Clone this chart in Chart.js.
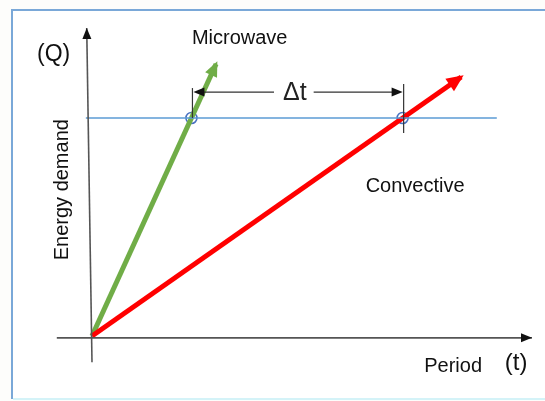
<!DOCTYPE html>
<html>
<head>
<meta charset="utf-8">
<script src="https://cdn.jsdelivr.net/npm/chart.js@4/dist/chart.umd.min.js"></script>
<style>
  html, body { margin: 0; padding: 0; background: #ffffff; }
  #wrap { width: 545px; height: 401px; position: relative; }
</style>
</head>
<body>
<div id="wrap"><canvas id="c" width="545" height="401"></canvas></div>
<script>
// ---- Data (t = period, Q = energy demand, arbitrary units) ----
const seriesNames   = ['Microwave', 'Convective'];
const microwaveT    = [0, 2.82];
const microwaveQ    = [0, 8.83];
const convectiveT   = [0, 8.39];
const convectiveQ   = [0, 8.41];
const thresholdT    = [-0.14, 9.2];
const thresholdQ    = [7.08, 7.08];
const crossT        = [2.26, 7.06];
const crossQ        = [7.08, 7.08];
const deltaQ        = 7.92;          // level of the Δt dimension line
const tickTopQ      = [8.05, 8.18];  // upper ends of the dimension ticks
const tickBottomQ   = [7.08, 6.59];  // lower ends of the dimension ticks
const xAxisT        = [-0.8, 10];
const xAxisQ        = [-0.06, -0.06];
const yAxisT        = [0, -0.12];
const yAxisQ        = [-0.85, 10];
const labels = {
  yTitle: 'Energy demand', yUnit: '(Q)',
  xTitle: 'Period', xUnit: '(t)',
  delta: 'Δt'
};

const pts = (xs, ys) => xs.map((x, i) => ({ x: x, y: ys[i] }));

const FONT = '"Liberation Sans", Arial, "DejaVu Sans", sans-serif';

function arrowHead(ctx, x1, y1, x2, y2, len, wid, color, extend) {
  const a = Math.atan2(y2 - y1, x2 - x1);
  const tx = x2 + Math.cos(a) * (extend || 0);
  const ty = y2 + Math.sin(a) * (extend || 0);
  ctx.save();
  ctx.translate(tx, ty);
  ctx.rotate(a);
  ctx.fillStyle = color;
  ctx.beginPath();
  ctx.moveTo(0, 0);
  ctx.lineTo(-len, wid / 2);
  ctx.lineTo(-len, -wid / 2);
  ctx.closePath();
  ctx.fill();
  ctx.restore();
}

const decor = {
  id: 'decor',
  beforeDraw(chart) {
    const ctx = chart.ctx;
    ctx.save();
    ctx.fillStyle = '#fdfdfb';
    ctx.fillRect(0, 0, chart.width, chart.height);
    ctx.fillStyle = '#ffffff';
    ctx.fillRect(12, 10, chart.width, 388);
    ctx.strokeStyle = '#7aa8d8';
    ctx.lineWidth = 2;
    ctx.beginPath();
    ctx.moveTo(chart.width + 2, 10);
    ctx.lineTo(12, 10);
    ctx.lineTo(12, 399);
    ctx.stroke();
    ctx.strokeStyle = '#d4f3f8';
    ctx.beginPath();
    ctx.moveTo(13, 399);
    ctx.lineTo(chart.width + 2, 399);
    ctx.stroke();
    ctx.restore();
  },
  afterDatasetsDraw(chart) {
    const ctx = chart.ctx;
    const xs = chart.scales.x, ys = chart.scales.y;
    const px = v => xs.getPixelForValue(v);
    const py = v => ys.getPixelForValue(v);

    // axis arrowheads
    arrowHead(ctx, px(xAxisT[0]), py(xAxisQ[0]), px(xAxisT[1]), py(xAxisQ[1]), 11, 9, '#111', 0);
    arrowHead(ctx, px(yAxisT[0]), py(yAxisQ[0]), px(yAxisT[1]), py(yAxisQ[1]), 11, 9, '#111', 0);

    // series arrowheads
    arrowHead(ctx, px(microwaveT[0]), py(microwaveQ[0]), px(microwaveT[1]), py(microwaveQ[1]), 15, 13, '#70ad47', 3);
    arrowHead(ctx, px(convectiveT[0]), py(convectiveQ[0]), px(convectiveT[1]), py(convectiveQ[1]), 17, 15, '#ff0000', 3);

    // Δt dimension ticks
    ctx.save();
    ctx.strokeStyle = '#333';
    ctx.lineWidth = 1.2;
    for (let i = 0; i < crossT.length; i++) {
      ctx.beginPath();
      ctx.moveTo(px(crossT[i]) + 1, py(tickTopQ[i]));
      ctx.lineTo(px(crossT[i]) + 1, py(tickBottomQ[i]));
      ctx.stroke();
    }
    // dimension line with text gap
    ctx.font = '25px ' + FONT;
    const midT = (crossT[0] + crossT[1]) / 2 - 0.05;
    const tw = ctx.measureText(labels.delta).width;
    const yD = py(deltaQ);
    const xL = px(crossT[0]) + 1, xR = px(crossT[1]) + 1, xM = px(midT);
    ctx.beginPath();
    ctx.moveTo(xL + 8, yD); ctx.lineTo(xM - tw / 2 - 9, yD);
    ctx.moveTo(xM + tw / 2 + 7, yD); ctx.lineTo(xR - 8, yD);
    ctx.stroke();
    arrowHead(ctx, xM, yD, xL + 1, yD, 11, 9, '#111', 0);
    arrowHead(ctx, xM, yD, xR - 1, yD, 11, 9, '#111', 0);
    ctx.fillStyle = '#222';
    ctx.textAlign = 'center';
    ctx.textBaseline = 'middle';
    ctx.fillText(labels.delta, xM, yD + 1);

    // labels
    ctx.font = '20px ' + FONT;
    ctx.fillStyle = '#111';
    ctx.textAlign = 'left';
    ctx.fillText(seriesNames[0], px(2.27), py(9.65));
    ctx.fillText(seriesNames[1], px(6.22), py(4.87));
    ctx.fillText(labels.xTitle, px(7.55), py(-0.98));

    ctx.font = '23px ' + FONT;
    ctx.fillText(labels.yUnit, px(-1.25), py(9.15));
    ctx.font = '24px ' + FONT;
    ctx.fillText(labels.xUnit, px(9.38), py(-0.88));

    ctx.save();
    ctx.font = '20px ' + FONT;
    ctx.translate(px(-0.68), py(4.75));
    ctx.rotate(-Math.PI / 2);
    ctx.textAlign = 'center';
    ctx.fillText(labels.yTitle, 0, 0);
    ctx.restore();
    ctx.restore();
  }
};

new Chart(document.getElementById('c'), {
  type: 'scatter',
  data: {
    datasets: [
      { label: 'x-axis', data: pts(xAxisT, xAxisQ), showLine: true, borderColor: '#555', borderWidth: 1.6, pointRadius: 0 },
      { label: 'y-axis', data: pts(yAxisT, yAxisQ), showLine: true, borderColor: '#555', borderWidth: 1.6, pointRadius: 0 },
      { label: 'threshold', data: pts(thresholdT, thresholdQ), showLine: true, borderColor: '#5b9bd5', borderWidth: 1.5, pointRadius: 0 },
      { label: seriesNames[1], data: pts(convectiveT, convectiveQ), showLine: true, borderColor: '#ff0000', borderWidth: 5, pointRadius: 0, borderCapStyle: 'butt' },
      { label: seriesNames[0], data: pts(microwaveT, microwaveQ), showLine: true, borderColor: '#70ad47', borderWidth: 5, pointRadius: 0, borderCapStyle: 'butt' },
      { label: 'crossings', data: pts(crossT, crossQ), showLine: false, pointRadius: 5.5, pointBackgroundColor: 'rgba(255,255,255,0.6)', pointBorderColor: '#4a72c0', pointBorderWidth: 1.6 }
    ]
  },
  options: {
    responsive: false,
    animation: false,
    layout: { padding: 0, autoPadding: false },
    plugins: { legend: { display: false }, tooltip: { enabled: false } },
    scales: {
      x: { type: 'linear', display: false, min: -92 / 44, max: (545 - 92) / 44 },
      y: { type: 'linear', display: false, min: -(401 - 336) / 30.8, max: 336 / 30.8 }
    }
  },
  plugins: [decor]
});
</script>
</body>
</html>
